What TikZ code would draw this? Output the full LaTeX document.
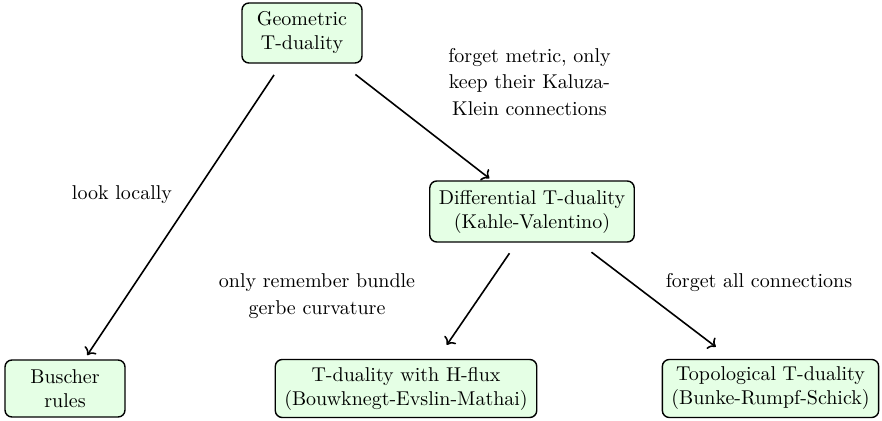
\documentclass[tikz,border=0pt]{standalone}
\usetikzlibrary{arrows.meta}
\begin{document}
\begin{tikzpicture}[x=0.5pt,y=-0.5pt,
  box/.style={draw, line width=0.7pt, rounded corners=3.5pt, fill=green!10, align=center,
    inner xsep=4.5pt, inner ysep=3pt},
  lbl/.style={align=center, font=\fontsize{10}{13.4}\selectfont},
  arr/.style={->, thick}]
\useasboundingbox (0,0) rectangle (882,421);
\node[box, minimum width=60pt, minimum height=30pt] (geo) at (302,33) {Geometric\\T-duality};
\node[box, minimum height=30.5pt] (diff) at (532,211.5) {Differential T-duality\\(Kahle-Valentino)};
\node[box, minimum width=60pt, minimum height=28.5pt] (busch) at (65,388.5) {Buscher\\rules};
\node[box, minimum height=29pt] (hflux) at (406,388.5) {T-duality with H-flux\\(Bouwknegt-Evslin-Mathai)};
\node[box, minimum height=29pt] (topo) at (770.5,388.5) {Topological T-duality\\(Bunke-Rumpf-Schick)};
\node[lbl] (l1) at (529.5,82) {forget metric, only\\keep their Kaluza-\\Klein connections};
\node[lbl] (l2) at (122,195) {look locally};
\node[lbl] (l3) at (317,296) {only remember bundle\\gerbe curvature};
\node[lbl] (l4) at (759,283) {forget all connections};
\draw[arr, shorten <=25.2pt, shorten >=20pt] (geo.center) -- (busch.center);
\draw[arr, shorten <=33.8pt, shorten >=27pt] (geo.center) -- (diff.center);
\draw[arr, shorten <=25.3pt, shorten >=26.4pt] ([xshift=3pt]diff.center) -- ([xshift=5.5pt]hflux.center);
\draw[arr, shorten <=33.6pt, shorten >=34.4pt] ([xshift=3pt]diff.center) -- (topo.center);
\end{tikzpicture}
\end{document}
